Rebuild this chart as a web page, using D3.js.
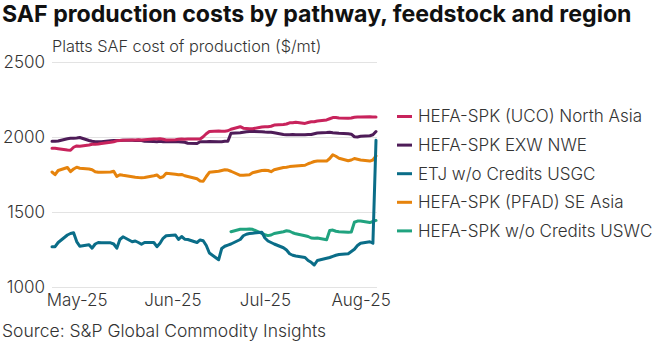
<!DOCTYPE html>
<html><head><meta charset="utf-8">
<script src="https://cdn.jsdelivr.net/npm/d3@7"></script>
<style>
body{margin:0;background:#fff;}
svg{display:block;}
text{font-family:Inter,"Noto Sans",sans-serif;}
</style></head>
<body><svg id="c" width="660" height="348"></svg>
<script>
const title = "SAF production costs by pathway, feedstock and region";
const subtitle = "Platts SAF cost of production ($/mt)";
const source = "Source: S&P Global Commodity Insights";
const yTicks = [1000, 1500, 2000, 2500];
const xTickDates = ["2025-05-01","2025-06-01","2025-07-01","2025-08-01"];
const xTickLabels = ["May-25","Jun-25","Jul-25","Aug-25"];

const dates = ["04-23","04-24","04-25","04-28","04-29","04-30",
"05-01","05-02","05-05","05-06","05-07","05-08","05-09","05-12","05-13","05-14","05-15","05-16",
"05-19","05-20","05-21","05-22","05-23","05-26","05-27","05-28","05-29","05-30",
"06-02","06-03","06-04","06-05","06-06","06-09","06-10","06-11","06-12","06-13",
"06-16","06-17","06-18","06-19","06-20","06-23","06-24","06-25","06-26","06-27","06-30",
"07-01","07-02","07-03","07-04","07-07","07-08","07-09","07-10","07-11","07-14","07-15","07-16","07-17","07-18",
"07-21","07-22","07-23","07-24","07-25","07-28","07-29","07-30","07-31",
"08-01","08-04","08-05","08-06"];

const seriesNames = ["HEFA-SPK (UCO) North Asia","HEFA-SPK EXW NWE","ETJ w/o Credits USGC","HEFA-SPK (PFAD) SE Asia","HEFA-SPK w/o Credits USWC"];
const seriesColors = ["#c8235c","#4e1c58","#0a6d88","#e6830c","#20a37f"];

const ucoNorthAsia = [1928,1928,1925,1917,1915,1935,
1944,1942,1950,1955,1955,1957,1960,1968,1972,1978,1980,1982,
1983,1983,1985,1983,1985,1990,1990,1992,1988,1983,
1985,1988,1990,1988,1990,1990,1990,2005,2025,2040,
2044,2042,2042,2045,2055,2072,2062,2060,2058,2058,2070,
2072,2072,2075,2083,2087,2090,2098,2098,2102,2094,2100,2105,2105,2110,
2117,2125,2133,2133,2130,2128,2130,2135,2137,
2137,2138,2137,2137];

const exwNWE = [1975,1975,1977,1992,1995,1995,
1997,2000,1980,1975,1972,1972,1972,1978,1980,1980,1980,1982,
1982,1980,1982,1980,1975,1973,1972,1975,1972,1972,
1972,1972,1970,1968,1962,1960,1972,1972,1972,1974,
1972,1972,1975,1975,2028,2032,2035,2038,2040,2040,2038,
2036,2035,2035,2032,2020,2018,2018,2020,2018,2018,2020,2020,2025,2030,
2033,2035,2032,2030,2028,2025,2022,2005,2003,
2008,2012,2018,2040];

const etjUSGC = [1272,1272,1300,1350,1360,1365,
1306,1275,1285,1262,1290,1300,1298,1298,1290,1262,1320,1338,
1305,1310,1300,1288,1300,1300,1272,1295,1328,1345,
1350,1320,1340,1322,1320,1300,1317,1312,1280,1230,
1185,1260,1275,1283,1290,1320,1345,1355,1360,1362,1368,
1330,1310,1300,1290,1265,1250,1225,1215,1210,1200,1180,1168,1150,1180,
1195,1200,1208,1215,1220,1225,1240,1255,1280,
1295,1305,1295,1982];

const pfadSEAsia = [1770,1752,1780,1800,1772,1790,
1802,1795,1790,1785,1772,1768,1768,1770,1775,1740,1752,1748,
1738,1735,1733,1732,1733,1745,1750,1732,1738,1762,
1755,1752,1754,1745,1740,1725,1710,1708,1740,1768,
1775,1780,1785,1783,1775,1748,1748,1750,1752,1765,1780,
1782,1780,1772,1785,1800,1802,1806,1808,1810,1815,1825,1832,1840,1843,
1843,1860,1885,1875,1862,1845,1850,1860,1855,
1850,1843,1850,1877];

const uswc = [null,null,null,null,null,null,
null,null,null,null,null,null,null,null,null,null,null,null,
null,null,null,null,null,null,null,null,null,null,
null,null,null,null,null,null,null,null,null,null,
null,null,null,null,1372,1388,1388,1388,1390,1388,1361,
1352,1346,1350,1360,1372,1378,1375,1365,1358,1345,1340,1330,1328,1330,
1318,1380,1383,1375,1372,1368,1370,1435,1443,
1443,1433,1440,1447];

const seriesValues = [ucoNorthAsia, exwNWE, etjUSGC, pfadSEAsia, uswc];

(function () {
const parse = d3.timeParse("%Y-%m-%d");
const xDates = dates.map(s => parse("2025-" + s));

const svg = d3.select("#c");
const pl = 52, pr = 376, pt = 62.5, pb = 287.5;

const x = d3.scaleTime().domain([xDates[0], xDates[xDates.length-1]]).range([pl, pr]);
const y = d3.scaleLinear().domain([1000, 2500]).range([pb, pt]);

svg.append("g").selectAll("line").data(yTicks).join("line")
  .attr("x1", pl).attr("x2", pr + 1)
  .attr("y1", d => y(d)).attr("y2", d => y(d))
  .attr("stroke", "#e3e3e3").attr("stroke-width", 1);

const yAxis = d3.axisLeft(y).tickValues(yTicks).tickSize(0).tickPadding(0).tickFormat(d3.format("d"));
const gy = svg.append("g").attr("transform", "translate(45,0)").call(yAxis);
gy.select(".domain").remove();
gy.selectAll("text").attr("font-family", "Inter, sans-serif").attr("font-size", 17).attr("font-weight", 300).attr("fill", "#333");

const xAxis = d3.axisBottom(x).tickValues(xTickDates.map(parse)).tickSize(0).tickPadding(0)
  .tickFormat((d, i) => xTickLabels[i]);
const gx = svg.append("g").attr("transform", `translate(0,${pb + 5})`).call(xAxis);
gx.select(".domain").remove();
gx.selectAll("text").attr("font-family", "Inter, sans-serif").attr("font-size", 17).attr("font-weight", 300).attr("fill", "#333").attr("dy", "0.8em");

const line = d3.line().defined(d => d.v != null).x(d => x(d.t)).y(d => y(d.v)).curve(d3.curveLinear);
const order = [3, 1, 0, 4, 2];
order.forEach(i => {
  const pts = xDates.map((t, j) => ({t, v: seriesValues[i][j]}));
  svg.append("path").datum(pts).attr("d", line)
    .attr("fill", "none").attr("stroke", seriesColors[i]).attr("stroke-width", 3)
    .attr("stroke-linejoin", "round").attr("stroke-linecap", "round");
});

const lg = svg.append("g").attr("transform", "translate(397,116.5)");
seriesNames.forEach((n, i) => {
  const g = lg.append("g").attr("transform", `translate(0,${i * 28.6})`);
  g.append("line").attr("x1", 0).attr("x2", 15).attr("y1", 0).attr("y2", 0)
    .attr("stroke", seriesColors[i]).attr("stroke-width", 3);
  g.append("text").attr("x", 21).attr("y", 0).attr("dy", "0.35em")
    .attr("font-size", 17).attr("font-weight", 300).attr("fill", "#333").text(n);
});

const tt = svg.append("text").attr("x", 2).attr("y", 22).attr("font-family", "Roboto, sans-serif")
  .attr("font-weight", 700).attr("font-size", 21).attr("fill", "#111").text(title);
const tw = tt.node().getComputedTextLength();
tt.attr("font-size", 21 * 630 / tw);

svg.append("text").attr("x", 52).attr("y", 52).attr("font-size", 16.3).attr("font-weight", 300)
  .attr("fill", "#333").text(subtitle);

svg.append("text").attr("x", 2).attr("y", 337).attr("font-size", 17.5).attr("font-weight", 300)
  .attr("fill", "#333").text(source);
})();
</script></body></html>
